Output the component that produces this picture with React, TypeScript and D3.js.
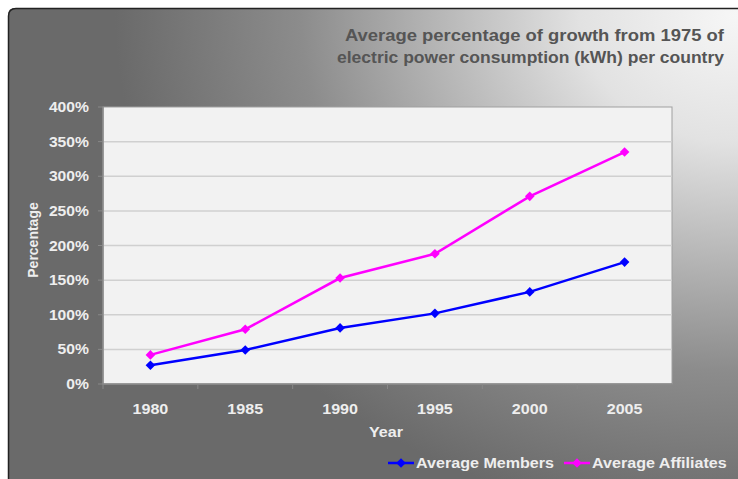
import React from "react";
import * as d3 from "d3";

const years = ["1980", "1985", "1990", "1995", "2000", "2005"];
const members = [27, 49, 81, 102, 133, 176];
const affiliates = [42, 79, 153, 188, 271, 335];
const yTicks = [0, 50, 100, 150, 200, 250, 300, 350, 400];
const titleLines = ["Average percentage of growth from 1975 of", "electric power consumption (kWh) per country"];
const seriesNames = ["Average Members", "Average Affiliates"];
const seriesColors = ["#0000ff", "#ff00ff"];

const font = "'Liberation Sans', Arial, sans-serif";

function T(props: { x: number; y: number; anchor?: string; size: number; fill: string; sx?: number; children: any }) {
  const { x, y, anchor = "start", size, fill, sx = 1.15, children } = props;
  return (
    <text transform={`translate(${x},${y}) scale(${sx},1)`} textAnchor={anchor as any} fontFamily={font} fontWeight="bold" fontSize={size} fill={fill}>
      {children}
    </text>
  );
}

export default function App() {
  const W = 738, H = 479;
  const left = 103, right = 672, top = 107, bottom = 384;
  const x = d3.scaleBand().domain(years).range([left, right]);
  const y = d3.scaleLinear().domain([0, 400]).range([bottom, top]);
  const line = d3.line<number>().x((_, i) => (x(years[i]) as number) + x.bandwidth() / 2).y((d) => y(d));
  const diamond = (cx: number, cy: number, r = 4.8) => `M${cx},${cy - r}L${cx + r},${cy}L${cx},${cy + r}L${cx - r},${cy}Z`;
  const series = [members, affiliates];
  const lbl = "#eeeeee";
  const titleWidths = [379, 387];
  return (
    <svg width={W} height={H} style={{ position: "absolute", left: 0, top: 0 }}>
      <defs>
        <radialGradient id="bg" gradientUnits="userSpaceOnUse" cx={735} cy={15} r={620} gradientTransform="translate(735,15) scale(1,0.82) translate(-735,-15)">
          <stop offset="0" stopColor="#f6f6f6" />
          <stop offset="0.25" stopColor="#e2e2e2" />
          <stop offset="0.7" stopColor="#8c8c8c" />
          <stop offset="1" stopColor="#6a6a6a" />
        </radialGradient>
      </defs>
      <rect x={0} y={0} width={W} height={H} fill="#ffffff" />
      <path d={`M8,${H}L8,16Q8,8 16,8L${W},8L${W},${H}Z`} fill="url(#bg)" />
      <path d={`M8.5,${H}L8.5,16Q8.5,8.5 16,8.5L${W},8.5`} fill="none" stroke="#222" strokeWidth={1.5} />
      {titleLines.map((t, i) => (
        <text key={i} x={724 - titleWidths[i]} y={41 + i * 22} textLength={titleWidths[i]} lengthAdjust="spacingAndGlyphs" fontFamily={font} fontWeight="bold" fontSize={16} fill="#555">{t}</text>
      ))}
      <rect x={left} y={top} width={right - left} height={bottom - top} fill="#f2f2f2" stroke="#a0a0a0" strokeWidth={1} />
      {yTicks.map((t) => (
        <g key={t}>
          {t > 0 && t < 400 && <line x1={left} x2={right} y1={y(t)} y2={y(t)} stroke="#d0d0d0" strokeWidth={1.5} />}
          <line x1={left - 5} x2={left} y1={y(t)} y2={y(t)} stroke="#888" strokeWidth={1} />
          <T x={89} y={y(t) + 5} anchor="end" size={14} fill={lbl} sx={1.12}>{t}%</T>
        </g>
      ))}
      <line x1={left} x2={left} y1={top} y2={bottom} stroke="#888" strokeWidth={1.5} />
      <line x1={left} x2={right} y1={bottom} y2={bottom} stroke="#888" strokeWidth={1.5} />
      {years.map((yr, i) => (
        <line key={"t" + yr} x1={left + i * x.step()} x2={left + i * x.step()} y1={bottom} y2={bottom + 5} stroke="#888" />
      ))}
      <line x1={right} x2={right} y1={bottom} y2={bottom + 5} stroke="#888" />
      {years.map((yr) => (
        <T key={yr} x={(x(yr) as number) + x.bandwidth() / 2} y={414} anchor="middle" size={14} fill={lbl}>{yr}</T>
      ))}
      <T x={386} y={437} anchor="middle" size={14} fill={lbl}>Year</T>
      <text transform={`translate(38,240) rotate(-90)`} textAnchor="middle" fontFamily={font} fontWeight="bold" fontSize={14} fill={lbl}>Percentage</text>
      {series.map((s, si) => (
        <g key={si}>
          <path d={line(s) || ""} fill="none" stroke={seriesColors[si]} strokeWidth={2.5} />
          {s.map((v, i) => (
            <path key={i} d={diamond((x(years[i]) as number) + x.bandwidth() / 2, y(v))} fill={seriesColors[si]} />
          ))}
        </g>
      ))}
      {seriesNames.map((n, i) => {
        const lx = i === 0 ? 388 : 564;
        return (
          <g key={n}>
            <line x1={lx} x2={lx + 26} y1={463} y2={463} stroke={seriesColors[i]} strokeWidth={2.5} />
            <path d={diamond(lx + 13, 463)} fill={seriesColors[i]} />
            <T x={lx + 28} y={468} size={14} fill={lbl}>{n}</T>
          </g>
        );
      })}
    </svg>
  );
}
